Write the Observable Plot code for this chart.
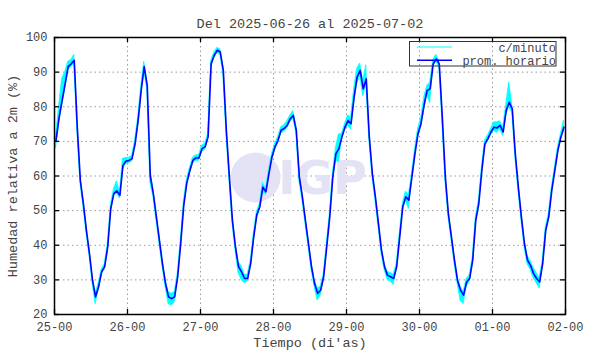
<!DOCTYPE html>
<html><head><meta charset="utf-8">
<script src="https://cdn.jsdelivr.net/npm/d3@7"></script>
<script src="https://cdn.jsdelivr.net/npm/@observablehq/plot@0.6"></script>
<style>body{margin:0;background:#fff} svg{display:block}</style>
</head><body><div id="chart"></div>
<script>
const title = "Del 2025-06-26 al 2025-07-02";
const yLabel = "Humedad relativa a 2m (%)";
const xLabel = "Tiempo (di'as)";
const seriesNames = ["c/minuto", "prom. horario"];
const xTicks = [0, 24, 48, 72, 96, 120, 144, 168];
const xTickLabels = ["25-00", "26-00", "27-00", "28-00", "29-00", "30-00", "01-00", "02-00"];
const yTicks = [20, 30, 40, 50, 60, 70, 80, 90, 100];

// hourly mean (prom. horario), one value per hour, day by day
const hourly = [
  70.3, 76.8, 81.8, 86.6, 91.6, 92.4, 93.4, 74, 58.7, 52, 44.3, 37.6, 29.9, 25.1, 28, 32.3, 33.8, 39.5, 50.6, 54.9, 55.7, 54.4, 63, 64.3,
  64.5, 65, 69.3, 76, 84.7, 91.6, 86, 60, 54.9, 48.2, 41.4, 34.7, 29, 25.1, 24.6, 25.1, 30.9, 40.5, 51.5, 58, 61.5, 64.5, 65.2, 65.2,
  67.9, 68.4, 71.3, 92.4, 94.8, 96.3, 95.8, 90.5, 73.2, 59.7, 47.2, 39.5, 33.8, 32.3, 30.4, 30.4, 34.7, 42.4, 48.7, 51.1, 56.8, 55.4, 60.7, 65.5,
  68.4, 70.3, 73.2, 73.7, 74.6, 76.5, 77.5, 73.2, 59.7, 54, 47.2, 40.5, 33.8, 29, 26.1, 27, 30.9, 39.5, 48.2, 59.7, 66.4, 67.9, 71.3, 74.1,
  76, 75.1, 82.8, 88.6, 90.5, 85.2, 88.1, 71.3, 60.7, 54, 46.3, 38.6, 33.8, 31.3, 30.9, 30.4, 33.8, 42.4, 51.1, 54, 53, 59.7, 66.4, 72.2,
  75.1, 80.4, 84.7, 85.2, 92.4, 93.8, 92.4, 77, 59.7, 49.1, 42.4, 35.7, 29.9, 27, 25.6, 29.4, 30.4, 35.7, 47.2, 52, 61.6, 69.3, 70.8, 72.7,
  74.1, 73.9, 74.6, 72.7, 78.9, 81.3, 79.4, 66.4, 56.8, 48.2, 40.5, 35.7, 34.2, 31.8, 30.4, 29.4, 34.7, 44.3, 48.2, 55.9, 61.6, 67.4, 71.3, 74.1
];
// per-minute readings (c/minuto): lowest and highest value within each hour
const minuteLow = [
  68, 75, 80, 85, 90.5, 91.5, 92.5, 73, 58, 51, 43.5, 37, 29, 23, 27, 31.5, 33, 38.5, 49.5, 54, 55, 53.5, 62, 63.5,
  63.7, 64.2, 68.5, 75, 83.5, 90.5, 85, 58, 54, 47.3, 40.5, 33.8, 28, 23, 22.5, 23.5, 30, 39.5, 50.5, 57, 60.7, 63.7, 64.4, 64.4,
  67, 67.5, 70.5, 91.5, 94, 95.5, 95, 89.5, 72.3, 58.8, 46.3, 38.5, 32, 30, 29, 29.5, 33.8, 41.5, 47.8, 50.2, 55.8, 54.5, 59.8, 64.6,
  67.5, 69.4, 72.3, 72.8, 73.7, 75.6, 76.6, 72.3, 58.8, 53, 46.3, 39.6, 32.9, 28, 24, 25.5, 30, 38.6, 47.3, 58.8, 64.5, 64, 70.4, 73.2,
  74.5, 73.5, 81, 86.5, 89, 83, 86.5, 70.3, 59.8, 53, 45.4, 37.7, 32.9, 30, 29.5, 28.5, 32.9, 41.5, 50.2, 53, 50.5, 58.8, 65.5, 71.2,
  74, 79, 83.5, 81, 91.5, 93, 91.5, 76, 58.8, 48.2, 41.5, 34.8, 29, 24, 23, 28, 29.5, 34.8, 46.3, 51, 60.7, 68.4, 69.9, 71.8,
  73, 72.5, 73.5, 71.5, 77.5, 80, 78.3, 65.5, 55.9, 47.3, 39.6, 34.5, 33, 30.5, 29, 27.5, 33.8, 43.4, 47.3, 55, 60.7, 66.5, 70.4, 73
];
const minuteHigh = [
  71.5, 80, 88, 90, 93, 93.5, 95, 75, 60, 53, 45, 38.5, 31, 26, 29, 33, 34.5, 40.5, 51.5, 56, 58.5, 55.5, 65, 65.2,
  65.3, 65.8, 70.3, 77, 86, 93, 87, 62, 56, 49, 42.3, 35.6, 30, 26.5, 26, 26.5, 31.8, 41.5, 52.5, 59, 62.3, 65.3, 66, 66,
  68.8, 69.3, 72.2, 93.2, 95.6, 97, 96.6, 91.4, 74.1, 60.6, 48.1, 40.4, 35, 34, 31.5, 31.5, 35.6, 43.3, 49.6, 52, 58, 56.3, 61.6, 66.4,
  69.3, 71.2, 74.1, 74.6, 75.8, 77.4, 78.8, 74.1, 60.6, 55, 48.1, 41.4, 34.7, 30, 27.5, 28, 31.8, 40.4, 49.1, 60.6, 68, 72, 72.2, 75,
  77.5, 77, 85, 91, 92.5, 87.5, 92, 72.3, 61.6, 55, 47.2, 39.5, 34.7, 32.3, 32, 31.5, 34.7, 43.3, 52, 55.5, 54.5, 60.6, 67.5, 73.5,
  76.5, 82.5, 86, 87, 93.5, 95, 93.3, 78, 60.6, 50, 43.3, 36.6, 30.8, 28, 26.6, 30.3, 31.3, 36.6, 48.1, 53, 62.5, 70.2, 71.7, 73.6,
  75.5, 75.5, 75.8, 74, 80.5, 87, 80.5, 67.3, 57.7, 49.1, 41.4, 37, 35.5, 33.5, 32, 30.5, 35.6, 45.2, 49.1, 56.8, 62.5, 68.3, 72.2, 76
];

const data = hourly.map((v, i) => ({t: i + 0.5, v, lo: minuteLow[i], hi: minuteHigh[i]}));
const font = "'Liberation Mono', 'DejaVu Sans Mono', monospace";
const textColor = "#444";
const cyan = "#00ffff";
const blue = "#0000ff";

const plot = Plot.plot({
  width: 590, height: 354,
  marginLeft: 54, marginRight: 25, marginTop: 37, marginBottom: 40,
  style: {fontFamily: font, background: "#fff", overflow: "visible"},
  x: {domain: [0, 168]},
  y: {domain: [20, 100]},
  marks: [
    Plot.gridX(xTicks, {stroke: "#999", strokeOpacity: 1, strokeDasharray: "1.5,3"}),
    Plot.gridY(yTicks, {stroke: "#999", strokeOpacity: 1, strokeDasharray: "1.5,3"}),
    Plot.dot([0], {frameAnchor: "middle", dx: -54.5, dy: 1.5, r: 25, fill: "#e3e3f5", stroke: "none"}),
    Plot.text(["IGP"], {text: d => d, frameAnchor: "middle", dx: 12.5, dy: 3, fontSize: 46, fontWeight: "bold", fill: "#e3e3f5", fontFamily: "'DejaVu Sans', sans-serif"}),
    Plot.areaY(data, {x: "t", y1: "lo", y2: "hi", fill: cyan, stroke: cyan, strokeWidth: 0.8, curve: "linear"}),
    Plot.line(data, {x: "t", y: "v", stroke: blue, strokeWidth: 1.6}),
    Plot.frame({stroke: "#000", strokeWidth: 1.5}),
    Plot.tickX(xTicks, {x: d => d, insetTop: 272, stroke: "#000", strokeWidth: 1.3}),
    Plot.tickX(xTicks, {x: d => d, insetBottom: 272, stroke: "#000", strokeWidth: 1.3}),
    Plot.tickY(yTicks, {y: d => d, insetRight: 506, stroke: "#000", strokeWidth: 1.3}),
    Plot.tickY(yTicks, {y: d => d, insetLeft: 506, stroke: "#000", strokeWidth: 1.3}),
    Plot.axisX(xTicks, {anchor: "bottom", tickSize: 0, tickPadding: 8, tickFormat: d => xTickLabels[xTicks.indexOf(d)], fontSize: 12, fill: textColor, label: null}),
    Plot.axisY(yTicks, {anchor: "left", tickSize: 0, tickPadding: 7, fontSize: 12, fill: textColor, label: null}),
    Plot.text([title], {text: d => d, frameAnchor: "top", dy: -19, fontSize: 13.5, fill: textColor}),
    Plot.text([xLabel], {text: d => d, frameAnchor: "bottom", dy: 32, fontSize: 13.5, fill: textColor}),
    Plot.text([yLabel], {text: d => d, frameAnchor: "left", textAnchor: "middle", dx: -42, rotate: -90, fontSize: 13.5, fill: textColor})
  ]
});

// legend (key) box, top right inside the frame
const svg = d3.select(plot);
const key = svg.append("g").attr("font-family", font).attr("font-size", 12).attr("fill", textColor);
key.append("rect").attr("x", 409.5).attr("y", 41.5).attr("width", 146.5).attr("height", 24.5)
  .attr("fill", "none").attr("stroke", "#333").attr("stroke-width", 1);
const keyColors = [cyan, blue];
seriesNames.forEach((name, i) => {
  const yy = 47 + i * 13.3;
  key.append("line").attr("x1", 417).attr("x2", 452).attr("y1", yy).attr("y2", yy)
    .attr("stroke", keyColors[i]).attr("stroke-width", i ? 1.6 : 1);
  key.append("text").attr("x", 556).attr("y", yy + 4.5).attr("text-anchor", "end").text(name);
});

document.getElementById("chart").appendChild(plot);
</script>
</body></html>
